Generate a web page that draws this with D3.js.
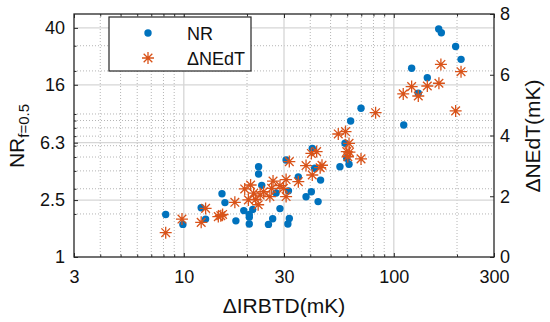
<!DOCTYPE html>
<html><head><meta charset="utf-8">
<script src="https://cdn.jsdelivr.net/npm/d3@7"></script>
<style>body{margin:0;background:#fff}svg{display:block;font-family:"Liberation Sans",Arial,sans-serif}</style>
</head><body>
<svg id="c" width="550" height="322"></svg>
<script>
// data
const xTickVals=[3,10,30,100,300];
const yLeftTickVals=[1,2.5,6.3,16,40];
const yRightTickVals=[0,2,4,6,8];
const nrX=[8.2,9.9,12.1,12.7,15.2,15.7,17.7,19.3,20.5,20.5,20.5,21.3,22.7,22.7,23.5,25.3,26.5,27.5,28.7,30.7,31.3,31.8,31.5,35.1,38.2,40.5,40.9,42.0,43.6,44.8,55.4,58.6,59.7,61.2,62.3,69.8,111.5,121.6,130.8,144.4,163.6,168.4,197,209];
const nrY=[1.98,1.69,2.21,1.84,2.77,2.40,1.79,2.11,1.98,1.90,1.70,2.15,4.28,3.80,3.17,1.69,1.85,2.8,2.18,4.77,1.70,1.86,2.9,3.63,2.64,2.86,5.75,4.17,2.44,3.45,4.28,6.24,4.90,4.45,8.93,10.96,8.38,20.9,13.96,17.9,39.3,37.0,29.6,24.1];
const neX=[8.2,9.8,12.1,12.7,14.6,15.3,15.0,17.5,19.5,20.3,20.8,21.5,22.0,22.6,23.1,24.0,25.7,26.2,26.6,28.7,29.8,30.7,30.7,31.8,35.1,38.2,40.5,40.9,42.9,44.6,45.5,54.4,58.9,61.2,59.7,60.4,61.5,69.8,81.9,110.9,121.6,130.8,144.4,164,167.6,197,209];
const neY=[0.80,1.25,1.14,1.60,1.33,1.40,1.36,1.80,2.24,1.88,2.37,2.10,1.90,1.72,2.04,2.15,1.99,2.26,2.50,2.35,2.26,1.99,2.55,3.14,2.48,3.01,3.41,2.70,3.47,2.94,3.02,4.05,4.13,3.74,3.47,3.30,3.45,3.23,4.75,5.37,5.61,5.30,5.63,5.72,6.34,4.81,6.10];

const L=74,T=14,W=420,H=243;
const svg=d3.select("#c");
const g=svg.append("g").attr("transform",`translate(${L},${T})`);
const x=d3.scaleLog().domain([3,300]).range([0,W]);
const yl=d3.scaleLog().domain([1,50]).range([H,0]);
const yr=d3.scaleLinear().domain([0,8]).range([H,0]);
const blue="#0072BD", orange="#D95319", axc="#262626";

const xMinor=x.ticks().filter(v=>!xTickVals.includes(v));
const yMinor=yl.ticks().filter(v=>!yLeftTickVals.includes(v) && v<50);

// minor grid
g.append("g").selectAll("line").data(xMinor).join("line")
 .attr("x1",d=>x(d)).attr("x2",d=>x(d)).attr("y1",0).attr("y2",H)
 .attr("stroke","#b5b5b5").attr("stroke-width",1).attr("stroke-dasharray","1,2");
g.append("g").selectAll("line").data(yMinor).join("line")
 .attr("y1",d=>yl(d)).attr("y2",d=>yl(d)).attr("x1",0).attr("x2",W)
 .attr("stroke","#b5b5b5").attr("stroke-width",1).attr("stroke-dasharray","1,2");
// major grid
g.append("g").selectAll("line").data(xTickVals.slice(1,-1)).join("line")
 .attr("x1",d=>x(d)).attr("x2",d=>x(d)).attr("y1",0).attr("y2",H)
 .attr("stroke","#d6d6d6").attr("stroke-width",1.3);
g.append("g").selectAll("line").data(yLeftTickVals.slice(1)).join("line")
 .attr("y1",d=>yl(d)).attr("y2",d=>yl(d)).attr("x1",0).attr("x2",W)
 .attr("stroke","#d6d6d6").attr("stroke-width",1.3);

// axes
const fs="18px";
g.append("g").attr("transform",`translate(0,${H})`)
 .call(d3.axisBottom(x).tickValues(xTickVals).tickFormat(d3.format("d")).tickSizeInner(-4).tickSizeOuter(0).tickPadding(13));
g.append("g").call(d3.axisTop(x).tickValues(xTickVals).tickFormat("").tickSizeInner(-4).tickSizeOuter(0));
g.append("g").call(d3.axisLeft(yl).tickValues(yLeftTickVals).tickFormat(d=>String(d)).tickSizeInner(-4).tickSizeOuter(0).tickPadding(9));
g.append("g").attr("transform",`translate(${W},0)`)
 .call(d3.axisRight(yr).tickValues(yRightTickVals).tickSizeInner(-4).tickSizeOuter(0).tickPadding(6));
// minor ticks
g.append("g").attr("transform",`translate(0,${H})`).call(d3.axisBottom(x).tickValues(xMinor).tickFormat("").tickSizeInner(-2.5).tickSizeOuter(0));
g.append("g").call(d3.axisTop(x).tickValues(xMinor).tickFormat("").tickSizeInner(-2.5).tickSizeOuter(0));
g.append("g").call(d3.axisLeft(yl).tickValues(yMinor).tickFormat("").tickSizeInner(-2.5).tickSizeOuter(0));
g.selectAll(".domain").remove();
g.selectAll(".tick line").attr("stroke",axc);
g.selectAll(".tick text").attr("fill","#111").style("font-size",fs).style("font-family","'Liberation Sans',Arial,sans-serif");
// frame
g.append("rect").attr("x",0).attr("y",0).attr("width",W).attr("height",H).attr("fill","none").attr("stroke",axc).attr("stroke-width",1.3);

// data marks
const plot=g.append("g");
plot.selectAll("circle").data(d3.range(nrX.length)).join("circle")
 .attr("cx",i=>x(nrX[i])).attr("cy",i=>yl(nrY[i])).attr("r",3.7).attr("fill",blue);
function star(sel,s){
  const a=s, b=s*0.72;
  sel.append("path").attr("d",`M${-a},0L${a},0M0,${-a}L0,${a}M${-b},${-b}L${b},${b}M${-b},${b}L${b},${-b}`)
   .attr("stroke",orange).attr("stroke-width",1.3).attr("fill","none");
}
plot.selectAll("g.st").data(d3.range(neX.length)).join("g").attr("class","st")
 .attr("transform",i=>`translate(${x(neX[i])},${yr(neY[i])})`).each(function(){star(d3.select(this),6);});

// axis titles
svg.append("text").attr("x",L+W/2).attr("y",313).attr("text-anchor","middle").style("font-size","21px").attr("fill","#111").text("ΔIRBTD(mK)");
svg.append("text").attr("transform","translate(540,136) rotate(-90)").attr("text-anchor","middle").style("font-size","21px").attr("fill","#111").text("ΔNEdT(mK)");
const lt=svg.append("text").attr("transform","translate(23.5,136) rotate(-90)").attr("text-anchor","middle").attr("fill","#111");
lt.append("tspan").style("font-size","21px").text("NR");
lt.append("tspan").style("font-size","15px").attr("dy",5).text("f=0.5");

// legend
const lg=svg.append("g");
lg.append("rect").attr("x",109).attr("y",17).attr("width",142).attr("height",54).attr("fill","#fff").attr("stroke",axc).attr("stroke-width",1.2);
lg.append("circle").attr("cx",148).attr("cy",33).attr("r",3.7).attr("fill",blue);
const ls=lg.append("g").attr("transform","translate(148,58)"); star(ls,6);
lg.append("text").attr("x",187).attr("y",40).style("font-size","18px").attr("fill","#111").text("NR");
lg.append("text").attr("x",187).attr("y",64.5).style("font-size","18px").attr("fill","#111").text("ΔNEdT");
</script>
</body></html>
